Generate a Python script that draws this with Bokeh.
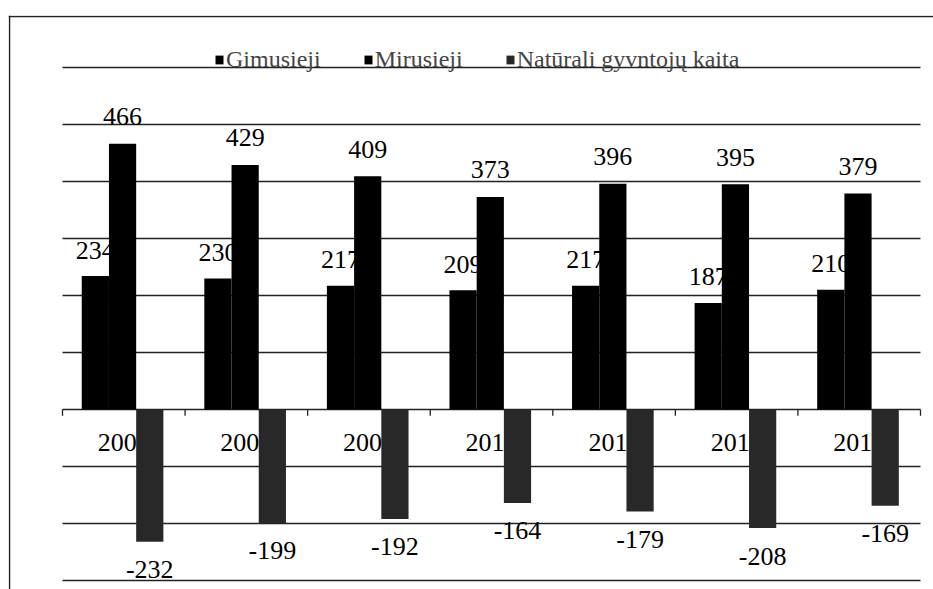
import numpy as np
from bokeh.plotting import figure
from bokeh.models import Range1d, ColumnDataSource, Legend, LegendItem, Span
from bokeh.core.properties import value
from bokeh.embed import file_html
from bokeh.resources import INLINE

# ---- data ----
years = ["2007", "2008", "2009", "2010", "2011", "2012", "2013"]
gimusieji = [234, 230, 217, 209, 217, 187, 210]
mirusieji = [466, 429, 409, 373, 396, 395, 379]
naturali = [-232, -199, -192, -164, -179, -208, -169]
grid_values = [-300, -200, -100, 0, 100, 200, 300, 400, 500, 600]
series_names = ["Gimusieji", "Mirusieji", "Natūrali gyvntojų kaita"]

FONT = "Liberation Serif"
NUM_SIZE = "26px"
idx = np.arange(len(years))
center = idx + 0.49
w = 0.222

X0, X1 = -0.4406, 7.106
Y0, Y1 = -315.8, 691.2
p = figure(width=933, height=589,
           x_range=Range1d(X0, X1), y_range=Range1d(Y0, Y1),
           output_backend="svg", toolbar_location=None,
           x_axis_location=None, y_axis_location=None,
           min_border_left=8, min_border_right=0, min_border_top=15, min_border_bottom=0)
p.grid.visible = False
p.outline_line_color = None
p.background_fill_color = "white"
p.border_fill_color = "white"

# frame border: only left and top edges are visible in the reference
px_x = (X1 - X0) / 925.0
px_y = (Y1 - Y0) / 574.0
p.add_layout(Span(location=X0 + 1.0 * px_x, dimension="height",
                  line_color="#222222", line_width=1.5))
p.add_layout(Span(location=Y1 - 1.0 * px_y, dimension="width",
                  line_color="#222222", line_width=1.5))

# grid lines (including the zero axis line)
n = len(years)
p.segment(x0=[0] * len(grid_values), x1=[n] * len(grid_values),
          y0=grid_values, y1=grid_values, line_color="#222222", line_width=1.6)
# category tick marks on the zero axis
bounds = np.arange(n + 1)
p.segment(x0=bounds, x1=bounds, y0=[0] * (n + 1), y1=[-11] * (n + 1),
          line_color="#222222", line_width=1.3)

src = ColumnDataSource(dict(
    xg=center - w, xm=center, xn=center + w, xc=idx + 0.5,
    g=gimusieji, m=mirusieji, nat=naturali,
    gl=[str(v) for v in gimusieji], ml=[str(v) for v in mirusieji],
    nl=[str(v) for v in naturali], yl=years,
    zero=[0] * n,
))

rg = p.vbar(x="xg", top="g", width=w, source=src, fill_color="#000000", line_color=None)
p.text(x="xg", y="g", text="gl", source=src, text_font=value(FONT), text_font_size=NUM_SIZE,
       text_align="center", text_baseline="alphabetic", y_offset=-26, text_color="#000000")

rm = p.vbar(x="xm", top="m", width=w, source=src, fill_color="#000000", line_color=None)
p.text(x="xm", y="m", text="ml", source=src, text_font=value(FONT), text_font_size=NUM_SIZE,
       text_align="center", text_baseline="alphabetic", y_offset=-27, text_color="#000000")

# year labels (partly hidden behind the negative bars)
p.text(x="xc", y="zero", text="yl", source=src, text_font=value(FONT), text_font_size=NUM_SIZE,
       text_align="center", text_baseline="alphabetic", y_offset=33, text_color="#000000")

rn = p.vbar(x="xn", top="nat", width=w, source=src, fill_color="#282828", line_color=None)
p.text(x="xn", y="nat", text="nl", source=src, text_font=value(FONT), text_font_size=NUM_SIZE,
       text_align="center", text_baseline="alphabetic", y_offset=28, text_color="#000000")

legend = Legend(items=[LegendItem(label=series_names[0], renderers=[rg]),
                       LegendItem(label=series_names[1], renderers=[rm]),
                       LegendItem(label=series_names[2], renderers=[rn])],
                location=(206, 516), orientation="horizontal",
                label_text_font=FONT, label_text_font_size="24px",
                label_standoff=2, glyph_width=10, glyph_height=11,
                spacing=42, padding=0, margin=0,
                border_line_color=None, background_fill_alpha=0)
p.add_layout(legend)

open("out.html", "w").write(file_html(p, INLINE))
